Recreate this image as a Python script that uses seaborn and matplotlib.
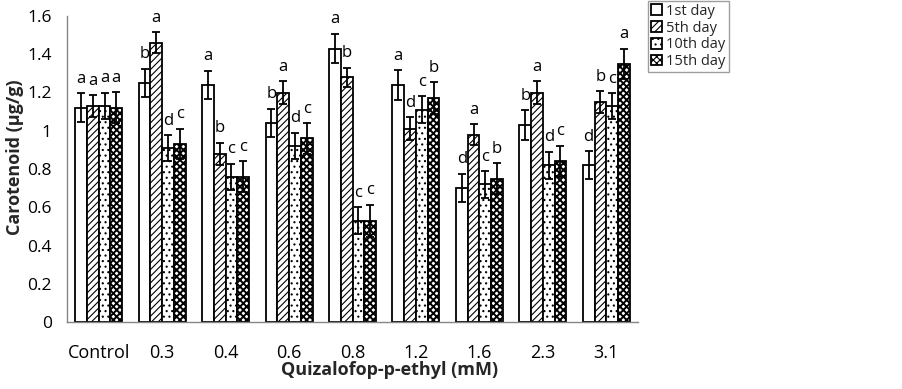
import numpy as np
import pandas as pd
import matplotlib
matplotlib.use("Agg")
import matplotlib.pyplot as plt
import seaborn as sns

# ---------------- data ----------------
concentrations = ["Control", "0.3", "0.4", "0.6", "0.8", "1.2", "1.6", "2.3", "3.1"]
days = ["1st day", "5th day", "10th day", "15th day"]

day1 = [1.12, 1.25, 1.24, 1.04, 1.43, 1.24, 0.70, 1.03, 0.82]
day5 = [1.13, 1.46, 0.88, 1.20, 1.28, 1.01, 0.98, 1.20, 1.15]
day10 = [1.13, 0.91, 0.76, 0.92, 0.53, 1.11, 0.72, 0.82, 1.13]
day15 = [1.12, 0.93, 0.76, 0.96, 0.53, 1.17, 0.75, 0.84, 1.35]

err1 = [0.075, 0.075, 0.075, 0.075, 0.078, 0.077, 0.075, 0.077, 0.072]
err5 = [0.057, 0.056, 0.058, 0.060, 0.050, 0.060, 0.056, 0.060, 0.058]
err10 = [0.070, 0.067, 0.068, 0.070, 0.070, 0.070, 0.070, 0.070, 0.066]
err15 = [0.080, 0.080, 0.080, 0.080, 0.084, 0.083, 0.082, 0.082, 0.080]

let1 = ["a", "b", "a", "b", "a", "a", "d", "b", "d"]
let5 = ["a", "a", "b", "a", "b", "d", "a", "a", "b"]
let10 = ["a", "d", "c", "d", "c", "c", "c", "d", "c"]
let15 = ["a", "c", "c", "c", "c", "b", "b", "c", "a"]

ytick_vals = [0, 0.2, 0.4, 0.6, 0.8, 1.0, 1.2, 1.4, 1.6]
ytick_labels = ["0", "0.2", "0.4", "0.6", "0.8", "1", "1.2", "1.4", "1.6"]

values = [day1, day5, day10, day15]
errors = [err1, err5, err10, err15]
letters = [let1, let5, let10, let15]

df = pd.DataFrame({
    "conc": [c for _ in days for c in concentrations],
    "day": [d for d in days for _ in concentrations],
    "value": [v for vals in values for v in vals],
})

# ---------------- style ----------------
sns.set_theme(style="white")
plt.rcParams["font.family"] = ["Open Sans", "DejaVu Sans"]
plt.rcParams["hatch.linewidth"] = 0.8
plt.rcParams["hatch.color"] = "black"

W, H = 902, 389
fig = plt.figure(figsize=(W / 100, H / 100), dpi=100)
left, right, top, bottom = 67, 638, 16, 322
ax = fig.add_axes([left / W, 1 - bottom / H, (right - left) / W, (bottom - top) / H])

sns.barplot(data=df, x="conc", y="value", hue="day", order=concentrations,
            hue_order=days, width=0.74, gap=0, errorbar=None,
            palette=["white"] * 4, edgecolor="black", linewidth=1.3,
            saturation=1, ax=ax, legend=False)

hatches = ["", "/////", "...", "xxxxx"]
hatch_lw = [0.8, 0.8, 0.8, 1.4]
axis_gray = "#868686"
bar_containers = list(ax.containers)
for ci, cont in enumerate(bar_containers):
    xs, hs = [], []
    for bar in cont:
        bar.set_hatch(hatches[ci])
        try:
            bar.set_hatch_linewidth(hatch_lw[ci])
        except AttributeError:
            pass
        bar.set_facecolor("white")
        bar.set_edgecolor("black")
        xs.append(bar.get_x() + bar.get_width() / 2)
        hs.append(bar.get_height())
    xs = np.array(xs)
    hs = np.array(hs)
    ax.errorbar(xs, hs, yerr=errors[ci], fmt="none", ecolor="black",
                elinewidth=1.3, capsize=3, capthick=1.3, zorder=5)
    for x, h, e, t in zip(xs, hs, errors[ci], letters[ci]):
        ax.text(x, h + e + 0.075, t, ha="center", va="center",
                fontsize=12, color="black")

ax.set_xlim(-0.5, len(concentrations) - 0.5)
ax.set_ylim(0, 1.6)
ax.set_yticks(ytick_vals)
ax.set_yticklabels(ytick_labels)

ax.set_xticks(range(len(concentrations)))
ax.set_xticklabels(concentrations)
ax.set_xticks(np.arange(-0.5, len(concentrations), 1.0), minor=True)
ax.tick_params(axis="x", which="major", length=0, pad=16, labelsize=13, colors="black")
ax.tick_params(axis="x", which="minor", length=5, width=1, color=axis_gray, direction="out")
ax.tick_params(axis="y", which="major", length=5, width=1, color=axis_gray,
               direction="out", pad=6, labelsize=12.5, labelcolor="black")

for s in ["top", "right"]:
    ax.spines[s].set_visible(False)
for s in ["left", "bottom"]:
    ax.spines[s].set_color(axis_gray)
    ax.spines[s].set_linewidth(1)

ax.set_xlabel("Quizalofop-p-ethyl (mM)", fontsize=13, fontweight="bold")
ax.xaxis.set_label_coords((390 - left) / (right - left), -(370 - bottom) / (bottom - top))
ax.xaxis.label.set_va("center")
ax.set_ylabel("Carotenoid (µg/g)", fontsize=13, fontweight="bold")
ax.yaxis.set_label_coords(-(left - 15) / (right - left), (bottom - 157) / (bottom - top))
ax.yaxis.label.set_va("center")

handles = [cont[0] for cont in bar_containers]
leg = fig.legend(handles=handles, labels=days, loc="upper left",
                 bbox_to_anchor=(648 / W, 1 - 1 / H), frameon=True, fancybox=False,
                 fontsize=10.5, handlelength=0.75, handleheight=0.75,
                 handletextpad=0.3, labelspacing=0.12, borderpad=0.2,
                 borderaxespad=0)
leg.get_frame().set_edgecolor(axis_gray)
leg.get_frame().set_linewidth(1)

fig.savefig("out.png", dpi=100, facecolor="white")
